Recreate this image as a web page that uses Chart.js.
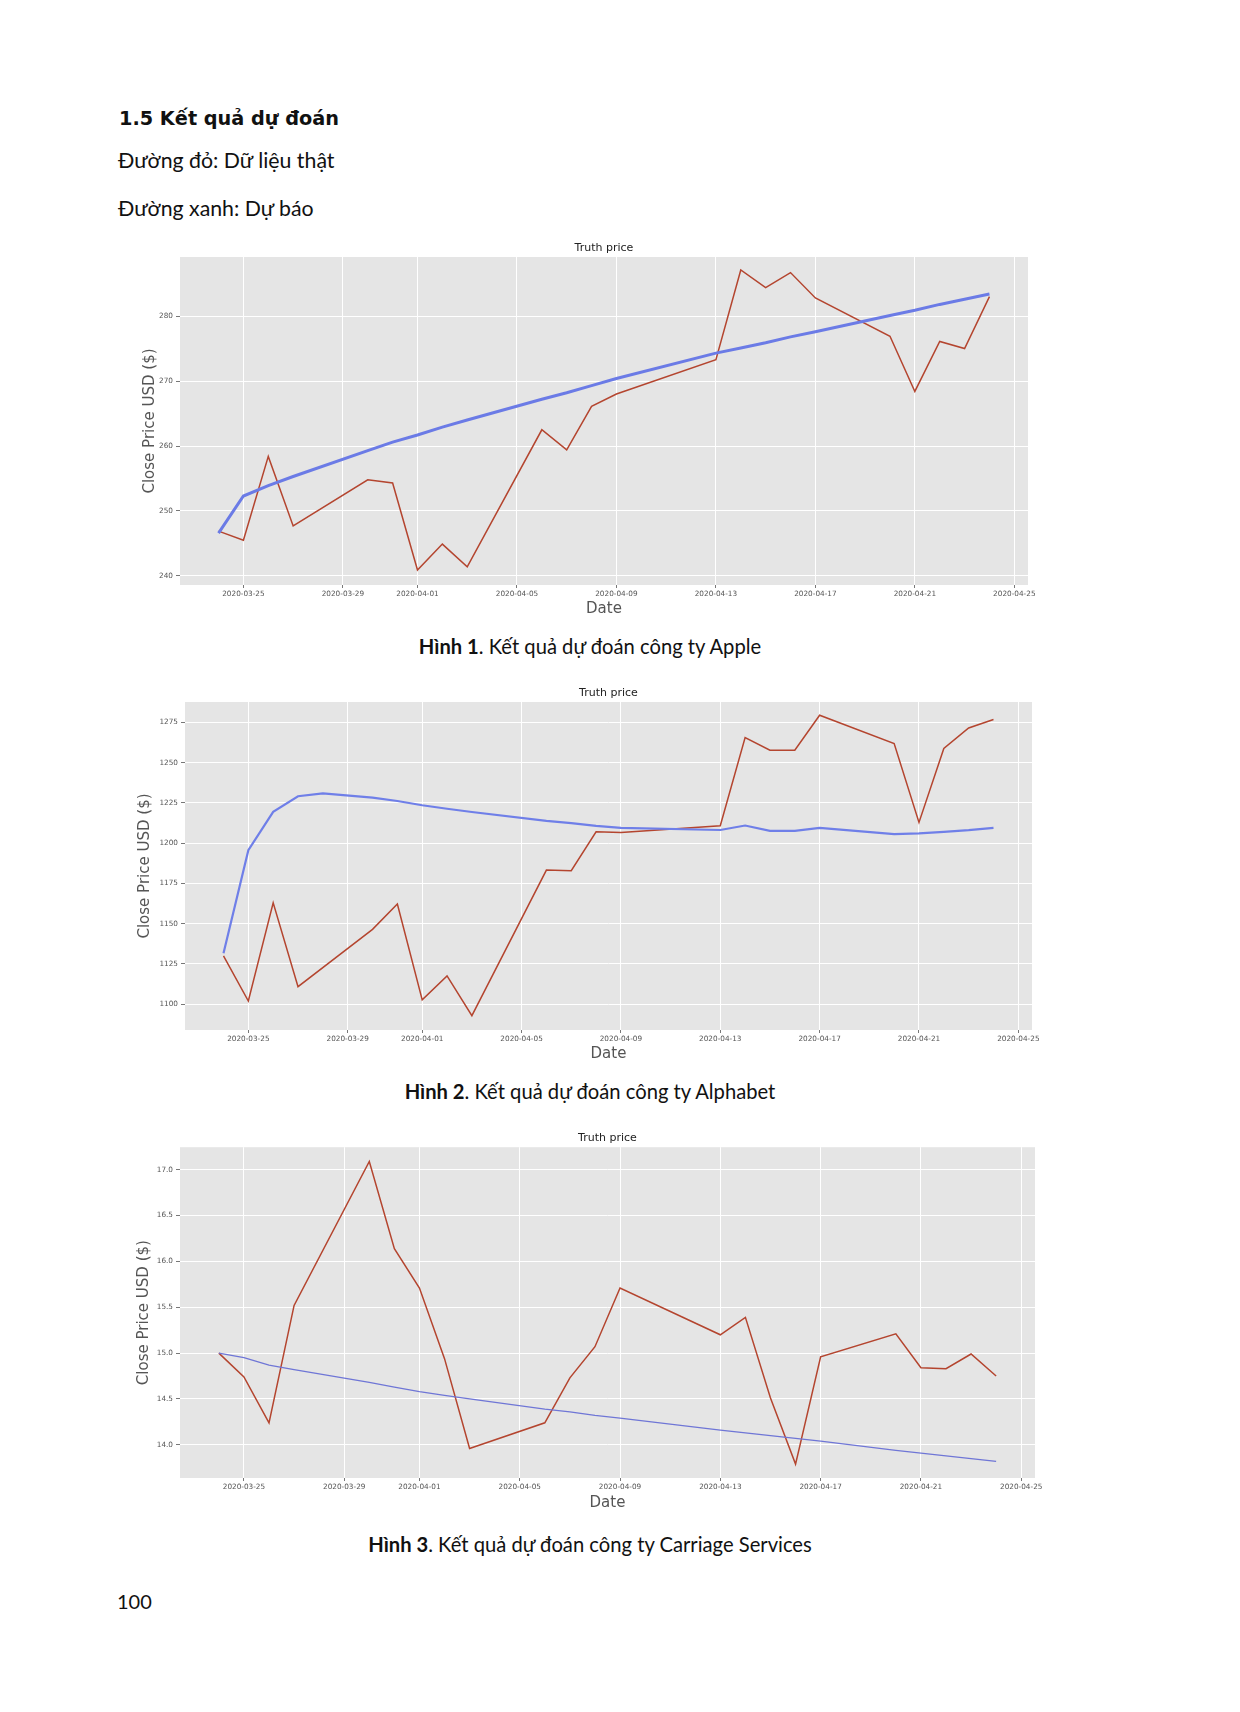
<!DOCTYPE html>
<html lang="vi">
<head>
<meta charset="utf-8">
<title>Kết quả dự đoán</title>
<script src="https://cdn.jsdelivr.net/npm/chart.js@4.4.1/dist/chart.umd.min.js"></script>
<style>
  html, body { margin: 0; padding: 0; background: #fff; }
  .page { position: relative; width: 1240px; height: 1712px; font-family: Lato, "Noto Sans", sans-serif; color: #111; }
  .txt { position: absolute; white-space: nowrap; line-height: 26px; }
  .h { left: 119px; top: 107px; font: bold 19.3px "DejaVu Sans", sans-serif; }
  .p { left: 118px; font-size: 21.3px; }
  .cap { left: 90px; width: 1000px; text-align: center; font-size: 20.2px; }
  .cap b { font-weight: bold; }
  .box { position: absolute; }
</style>
</head>
<body>
<div class="page">
  <div class="txt h">1.5 Kết quả dự đoán</div>
  <div class="txt p" style="top:147px">Đường đỏ: Dữ liệu thật</div>
  <div class="txt p" style="top:195px">Đường xanh: Dự báo</div>

  <div class="box" style="left:120px; top:232px"><canvas id="chart1" width="968" height="388"></canvas></div>
  <div class="txt cap" style="top:633px"><b>Hình 1</b>. Kết quả dự đoán công ty Apple</div>

  <div class="box" style="left:125px; top:677px"><canvas id="chart2" width="967" height="388"></canvas></div>
  <div class="txt cap" style="top:1078px"><b>Hình 2</b>. Kết quả dự đoán công ty Alphabet</div>

  <div class="box" style="left:120px; top:1121px"><canvas id="chart3" width="975" height="392"></canvas></div>
  <div class="txt cap" style="top:1531px"><b>Hình 3</b>. Kết quả dự đoán công ty Carriage Services</div>

  <div class="txt" style="left:117px; top:1588px; font-size:20px">100</div>
</div>

<script>
// ngày giao dịch (trục x)
const tradingDays = ['2020-03-24', '2020-03-25', '2020-03-26', '2020-03-27', '2020-03-30', '2020-03-31',
    '2020-04-01', '2020-04-02', '2020-04-03', '2020-04-06', '2020-04-07', '2020-04-08', '2020-04-09',
    '2020-04-13', '2020-04-14', '2020-04-15', '2020-04-16', '2020-04-17',
    '2020-04-20', '2020-04-21', '2020-04-22', '2020-04-23', '2020-04-24'];
const xTickDates = ['2020-03-25', '2020-03-29', '2020-04-01', '2020-04-05', '2020-04-09',
    '2020-04-13', '2020-04-17', '2020-04-21', '2020-04-25'];

// Hình 1 - Apple
const appleTruth = [246.9, 245.5, 258.4, 247.7, 254.8, 254.3, 240.9, 244.9, 241.4, 262.5, 259.4, 266.1, 268.0,
    273.3, 287.1, 284.4, 286.7, 282.8, 276.9, 268.4, 276.1, 275.0, 283.0];
const applePred = [246.6, 252.3, 253.9, 255.3, 259.3, 260.6, 261.7, 262.9, 264.0, 267.2, 268.2, 269.3, 270.4,
    274.3, 275.1, 275.9, 276.8, 277.6, 280.1, 280.9, 281.8, 282.6, 283.4];
const appleYTicks = [240, 250, 260, 270, 280];

// Hình 2 - Alphabet
const googTruth = [1130.0, 1102.0, 1163.0, 1110.9, 1146.5, 1162.2, 1102.7, 1117.6, 1092.9, 1183.3, 1182.9, 1207.1, 1206.7,
    1210.8, 1265.6, 1257.8, 1257.8, 1279.5, 1261.9, 1212.9, 1258.8, 1271.6, 1276.8];
const googPredDays = ['2020-03-24', '2020-03-25', '2020-03-26', '2020-03-27', '2020-03-28', '2020-03-30', '2020-03-31',
    '2020-04-01', '2020-04-02', '2020-04-03', '2020-04-06', '2020-04-07', '2020-04-08', '2020-04-09',
    '2020-04-13', '2020-04-14', '2020-04-15', '2020-04-16', '2020-04-17',
    '2020-04-20', '2020-04-21', '2020-04-22', '2020-04-23', '2020-04-24'];
const googPred = [1131.6, 1195.7, 1219.5, 1229.2, 1230.9, 1228.3, 1226.2, 1223.6, 1221.4, 1219.4, 1213.9, 1212.5, 1210.8, 1209.5,
    1208.2, 1211.0, 1207.7, 1207.7, 1209.5, 1205.6, 1206.1, 1207.1, 1208.1, 1209.5];
const googYTicks = [1100, 1125, 1150, 1175, 1200, 1225, 1250, 1275];

// Hình 3 - Carriage Services
const csvTruth = [15.00, 14.74, 14.24, 15.52, 17.09, 16.14, 15.71, 14.94, 13.96, 14.24, 14.73, 15.07, 15.71,
    15.20, 15.39, 14.51, 13.79, 14.96, 15.21, 14.84, 14.83, 14.99, 14.75];
const csvPred = [15.00, 14.95, 14.87, 14.82, 14.68, 14.63, 14.58, 14.54, 14.50, 14.39, 14.36, 14.32, 14.29,
    14.16, 14.13, 14.10, 14.07, 14.04, 13.94, 13.91, 13.88, 13.85, 13.82];
const csvYTicks = [14.0, 14.5, 15.0, 15.5, 16.0, 16.5, 17.0];

const DAY0 = Date.UTC(2020, 2, 24);
const dayOf = d => (Date.parse(d) - DAY0) / 864e5;
const labelOf = v => new Date(DAY0 + v * 864e5).toISOString().slice(0, 10);
const toPoints = (days, vals) => days.map((d, i) => ({ x: dayOf(d), y: vals[i] }));

const RED = '#b4452f';
const AXIS_FONT = 'DejaVu Sans';

const plotBg = {
    id: 'plotBg',
    beforeDraw(chart) {
        const { ctx, chartArea: a } = chart;
        ctx.save();
        ctx.fillStyle = '#e5e5e5';
        ctx.fillRect(a.left, a.top, a.right - a.left, a.bottom - a.top);
        ctx.restore();
    }
};

function buildChart(id, cfg) {
    return new Chart(document.getElementById(id), {
        type: 'line',
        data: {
            datasets: [
                { label: 'Truth', data: toPoints(tradingDays, cfg.truth), borderColor: RED, borderWidth: 1.5,
                  pointRadius: 0, order: 2 },
                { label: 'Predict', data: toPoints(cfg.predDays || tradingDays, cfg.pred), borderColor: cfg.blue,
                  borderWidth: cfg.blueWidth, pointRadius: 0, order: 1 }
            ]
        },
        options: {
            responsive: false,
            animation: false,
            layout: { padding: 0 },
            plugins: {
                legend: { display: false },
                tooltip: { enabled: false },
                title: {
                    display: true, text: 'Truth price', color: '#222',
                    font: { family: AXIS_FONT, size: 11, weight: 'normal' },
                    padding: { top: cfg.titleTop, bottom: cfg.titleBottom }
                }
            },
            scales: {
                x: {
                    type: 'linear', min: -1.55, max: 32.55,
                    afterBuildTicks: s => { s.ticks = xTickDates.map(d => ({ value: dayOf(d) })); },
                    afterFit: s => { s.height = 35; },
                    ticks: { callback: v => labelOf(v), color: '#555', font: { family: AXIS_FONT, size: 7.3 },
                             maxRotation: 0, autoSkip: false, padding: 2 },
                    grid: { color: '#ffffff', lineWidth: 1, tickLength: 3, tickColor: '#777' },
                    border: { display: false },
                    title: { display: true, text: 'Date', color: '#555', font: { family: AXIS_FONT, size: 15 },
                             padding: { top: 0, bottom: cfg.dateBottom } }
                },
                y: {
                    min: cfg.yMin, max: cfg.yMax,
                    afterBuildTicks: s => { s.ticks = cfg.yTicks.map(v => ({ value: v })); },
                    afterFit: s => { s.width = 60; },
                    ticks: { callback: cfg.yFmt, color: '#555', font: { family: AXIS_FONT, size: 7.3 }, padding: 3 },
                    grid: { color: '#ffffff', lineWidth: 1, tickLength: 4, tickColor: '#777' },
                    border: { display: false },
                    title: { display: true, text: 'Close Price USD ($)', color: '#555',
                             font: { family: AXIS_FONT, size: 15 }, padding: { top: cfg.yTitleTop, bottom: 0 } }
                },
                // trục phải rỗng, chỉ để giữ lề phải cho tiêu đề nằm giữa
                yRight: {
                    position: 'right', display: true,
                    afterFit: s => { s.width = 60; },
                    ticks: { display: false },
                    grid: { display: false },
                    border: { display: false }
                }
            }
        },
        plugins: [plotBg]
    });
}

buildChart('chart1', {
    truth: appleTruth, pred: applePred, blue: '#6b7be6', blueWidth: 3,
    yMin: 238.6, yMax: 289.1, yTicks: appleYTicks, yFmt: v => String(v),
    titleTop: 9.4, titleBottom: 2.4, dateBottom: 2, yTitleTop: 21
});
buildChart('chart2', {
    truth: googTruth, pred: googPred, predDays: googPredDays, blue: '#6f7fe8', blueWidth: 2.2,
    yMin: 1084, yMax: 1287.7, yTicks: googYTicks, yFmt: v => String(v),
    titleTop: 9.4, titleBottom: 2.4, dateBottom: 2, yTitleTop: 11
});
buildChart('chart3', {
    truth: csvTruth, pred: csvPred, blue: '#6f76d6', blueWidth: 1.3,
    yMin: 13.638, yMax: 17.246, yTicks: csvYTicks, yFmt: v => v.toFixed(1),
    titleTop: 10.4, titleBottom: 2.6, dateBottom: 1, yTitleTop: 15.5
});
</script>
</body>
</html>
